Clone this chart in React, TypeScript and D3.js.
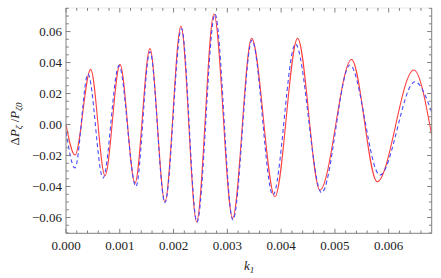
import React, { useEffect, useRef } from 'react';
import * as d3 from 'd3';

// extrema (k1, ΔP/P)
const redK = [0, 0.000167, 0.000459, 0.000725, 0.001004, 0.001283, 0.001561, 0.00184, 0.002138, 0.002429,
  0.002751, 0.003098, 0.003452, 0.003885, 0.004307, 0.004721, 0.00531, 0.005786, 0.006468, 0.0068];
const redP = [0.0, -0.0197, 0.0356, -0.033, 0.0388, -0.0378, 0.049, -0.0498, 0.0635, -0.0627,
  0.0713, -0.0605, 0.0556, -0.0466, 0.0556, -0.0423, 0.042, -0.0369, 0.0352, -0.0068];

const blueK = [0, 0.000167, 0.000409, 0.000688, 0.000985, 0.001301, 0.001561, 0.00184, 0.002147, 0.002435,
  0.00277, 0.003104, 0.003457, 0.003848, 0.004266, 0.004753, 0.005279, 0.005836, 0.006487, 0.0068];
const blueP = [-0.0046, -0.028, 0.0326, -0.0345, 0.038, -0.04, 0.047, -0.0505, 0.062, -0.063,
  0.0713, -0.0616, 0.0545, -0.0455, 0.052, -0.044, 0.0384, -0.0326, 0.0276, 0.008];

const xTicks = [0, 0.001, 0.002, 0.003, 0.004, 0.005, 0.006];
const xTickLabels = ['0.000', '0.001', '0.002', '0.003', '0.004', '0.005', '0.006'];
const yTicks = [-0.06, -0.04, -0.02, 0, 0.02, 0.04, 0.06];
const yTickLabels = ['\u22120.06', '\u22120.04', '\u22120.02', '0.00', '0.02', '0.04', '0.06'];

export default function App() {
  const ref = useRef<SVGSVGElement>(null);

  useEffect(() => {
    const width = 441;
    const height = 278;
    const left = 66, right = 431.7, top = 8, bottom = 233.3;

    const x = d3.scaleLinear().domain([0, 0.0068]).range([left, right]);
    const y = d3.scaleLinear().domain([-0.0702, 0.0752]).range([bottom, top]);

    const svg = d3.select(ref.current)
      .attr('width', width)
      .attr('height', height);
    svg.selectAll('*').remove();

    const font = '"Liberation Serif", "DejaVu Serif", serif';
    const frameColor = '#808080';

    // curves
    const line = d3.line<[number, number]>()
      .x(d => x(d[0]))
      .y(d => y(d[1]))
      .curve(d3.curveMonotoneX);

    const red = redK.map((k, i) => [k, redP[i]] as [number, number]);
    const blue = blueK.map((k, i) => [k, blueP[i]] as [number, number]);

    const clip = svg.append('defs').append('clipPath').attr('id', 'plotclip');
    clip.append('rect').attr('x', left).attr('y', top).attr('width', right - left).attr('height', bottom - top);

    const plot = svg.append('g').attr('clip-path', 'url(#plotclip)');
    plot.append('path')
      .datum(red)
      .attr('fill', 'none')
      .attr('stroke', '#ff4040')
      .attr('stroke-width', 1.1)
      .attr('d', line);
    plot.append('path')
      .datum(blue)
      .attr('fill', 'none')
      .attr('stroke', '#4848ff')
      .attr('stroke-width', 1.1)
      .attr('stroke-dasharray', '4,3')
      .attr('d', line);

    // frame
    const frame = svg.append('g').attr('stroke', frameColor).attr('fill', 'none');
    frame.append('line').attr('x1', left).attr('x2', left).attr('y1', top).attr('y2', bottom).attr('stroke-width', 1);
    frame.append('line').attr('x1', right).attr('x2', right).attr('y1', top).attr('y2', bottom).attr('stroke-width', 1);
    frame.append('line').attr('x1', left).attr('x2', right).attr('y1', bottom).attr('y2', bottom).attr('stroke-width', 1);
    frame.append('line').attr('x1', left).attr('x2', right).attr('y1', top).attr('y2', top)
      .attr('stroke-width', 0.5).attr('stroke-opacity', 0.35);

    // x ticks (major + minor), bottom and top, pointing inward
    const xMinor = d3.range(0, 35).map(i => i * 0.0002).filter(v => v <= 0.0068);
    xMinor.forEach((v, i) => {
      const major = i % 5 === 0;
      const len = major ? 4.5 : 2.8;
      frame.append('line').attr('x1', x(v)).attr('x2', x(v)).attr('y1', bottom).attr('y2', bottom - len);
      frame.append('line').attr('x1', x(v)).attr('x2', x(v)).attr('y1', top).attr('y2', top + len);
    });

    // y ticks every 0.005, major every 0.02
    const yMinor = d3.range(-14, 16).map(i => i * 0.005).filter(v => v >= -0.0702 && v <= 0.0752);
    yMinor.forEach(v => {
      const major = Math.abs(Math.round(v * 1000) % 20) === 0;
      const len = major ? 4.5 : 2.8;
      frame.append('line').attr('y1', y(v)).attr('y2', y(v)).attr('x1', left).attr('x2', left + len);
      frame.append('line').attr('y1', y(v)).attr('y2', y(v)).attr('x1', right).attr('x2', right - len);
    });

    // tick labels
    svg.append('g')
      .selectAll('text')
      .data(xTicks)
      .join('text')
      .attr('x', d => x(d))
      .attr('y', 250)
      .attr('text-anchor', 'middle')
      .attr('font-family', font)
      .attr('font-size', 13)
      .attr('fill', '#222')
      .text((d, i) => xTickLabels[i]);

    svg.append('g')
      .selectAll('text')
      .data(yTicks)
      .join('text')
      .attr('x', 62)
      .attr('y', d => y(d) + 4.5)
      .attr('text-anchor', 'end')
      .attr('font-family', font)
      .attr('font-size', 13)
      .attr('fill', '#222')
      .text((d, i) => yTickLabels[i]);

    // axis labels
    const xl = svg.append('text')
      .attr('x', 244)
      .attr('y', 270)
      .attr('font-family', font)
      .attr('font-size', 13)
      .attr('fill', '#222');
    xl.append('tspan').attr('font-style', 'italic').text('k');
    xl.append('tspan').attr('font-style', 'italic').attr('font-size', 9).attr('dy', 3).text('1');

    const yl = svg.append('text')
      .attr('transform', 'translate(19,124) rotate(-90)')
      .attr('text-anchor', 'middle')
      .attr('font-family', font)
      .attr('font-size', 13)
      .attr('fill', '#222');
    yl.append('tspan').text('\u0394');
    yl.append('tspan').attr('font-style', 'italic').text('P');
    yl.append('tspan').attr('font-style', 'italic').attr('font-size', 9).attr('dy', 3).text('\u03B6');
    yl.append('tspan').attr('dy', -3).text(' /');
    yl.append('tspan').attr('font-style', 'italic').text('P');
    yl.append('tspan').attr('font-style', 'italic').attr('font-size', 9).attr('dy', 3).text('\u03B60');
  }, []);

  return (
    <div style={{ position: 'absolute', left: 0, top: 0 }}>
      <svg ref={ref} style={{ display: 'block' }}></svg>
    </div>
  );
}
